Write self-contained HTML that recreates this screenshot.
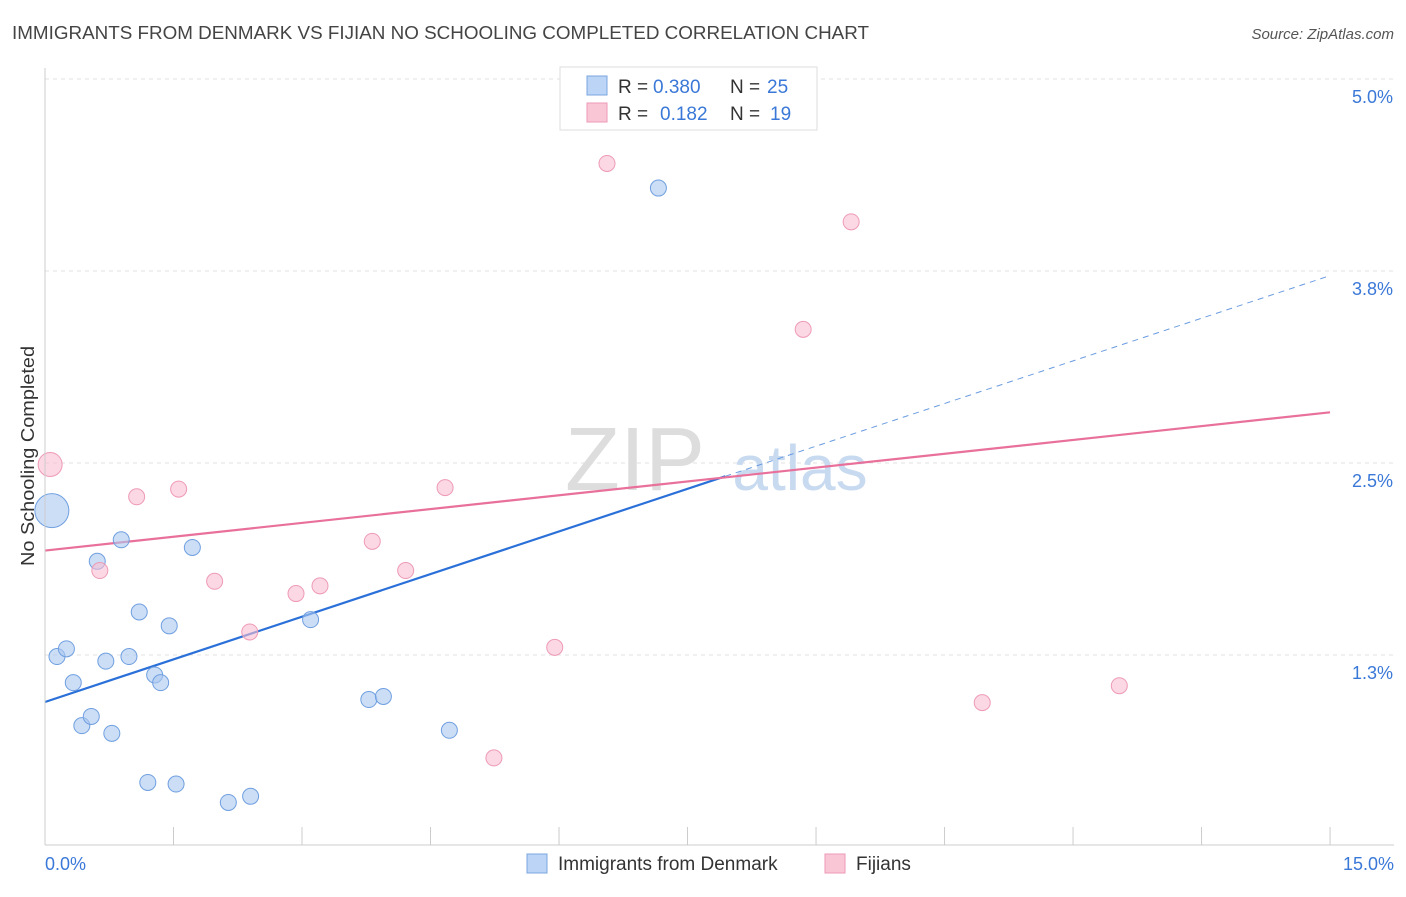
<!DOCTYPE html>
<html><head><meta charset="utf-8"><style>
body{margin:0;background:#fff;font-family:"Liberation Sans",sans-serif;}
svg text{font-family:"Liberation Sans",sans-serif;}
</style></head><body>
<svg id="chart" width="1406" height="892" xmlns="http://www.w3.org/2000/svg">
<text x="12" y="39" font-size="18" fill="#444" textLength="857" lengthAdjust="spacingAndGlyphs">IMMIGRANTS FROM DENMARK VS FIJIAN NO SCHOOLING COMPLETED CORRELATION CHART</text>
<text x="1394" y="39" font-size="15" fill="#555" font-style="italic" text-anchor="end">Source: ZipAtlas.com</text>
<text transform="translate(34,456) rotate(-90)" font-size="18" fill="#333" text-anchor="middle" textLength="220" lengthAdjust="spacingAndGlyphs">No Schooling Completed</text>
<g id="grid"></g>
<g id="watermark">
<text x="635" y="490" font-size="90" fill="#ddd" font-family="Liberation Serif" text-anchor="middle">ZIP</text>
<text x="800" y="490" font-size="64" fill="#c8daf0" text-anchor="middle">atlas</text>
</g>
<g id="lines"></g>
<g id="points"></g>
<g id="axes"></g>
<g>
<rect x="560" y="67" width="257" height="63" fill="#fff" stroke="#ddd"/>
<rect x="587" y="76" width="20" height="19" fill="#bcd4f5" stroke="#7aa6e0"/>
<rect x="587" y="103" width="20" height="19" fill="#f9c6d6" stroke="#ee9ab5"/>
<g font-size="19" fill="#333">
<text x="618" y="93">R =</text><text x="653" y="93" fill="#3a78d8">0.380</text><text x="730" y="93">N =</text><text x="767" y="93" fill="#3a78d8">25</text>
<text x="618" y="120">R =</text><text x="660" y="120" fill="#3a78d8">0.182</text><text x="730" y="120">N =</text><text x="770" y="120" fill="#3a78d8">19</text>
</g>
</g>
<g>
<rect x="527" y="854" width="20" height="19" fill="#bcd4f5" stroke="#7aa6e0"/>
<text x="558" y="870" font-size="19" fill="#333">Immigrants from Denmark</text>
<rect x="825" y="854" width="20" height="19" fill="#f9c6d6" stroke="#ee9ab5"/>
<text x="856" y="870" font-size="19" fill="#333">Fijians</text>
</g>
</svg>
<script>
const yTicks=[5.0,3.75,2.5,1.25];
const yTickLabels=["5.0%","3.8%","2.5%","1.3%"];
const xTickCount=10;
const blueX=[0.08,0.14,0.25,0.33,0.43,0.54,0.61,0.71,0.78,0.89,0.98,1.10,1.20,1.28,1.35,1.45,1.53,1.72,2.14,2.40,3.10,3.78,3.95,4.72,7.16];
const blueY=[2.19,1.24,1.29,1.07,0.79,0.85,1.86,1.21,0.74,2.00,1.24,1.53,0.42,1.12,1.07,1.44,0.41,1.95,0.29,0.33,1.48,0.96,0.98,0.76,4.29];
const pinkX=[0.06,0.64,1.07,1.56,1.98,2.39,2.93,3.21,3.82,4.21,4.67,5.24,5.95,6.56,8.85,9.41,10.94,12.54];
const pinkY=[2.49,1.80,2.28,2.33,1.73,1.40,1.65,1.70,1.99,1.80,2.34,0.58,1.30,4.45,3.37,4.07,0.94,1.05];
const blueLine=[0.944,3.72], blueSolidEnd=7.94;
const pinkLine=[1.93,2.83];
const X=v=>45+v*85.67, Y=v=>847-v*153.6;
const NS="http://www.w3.org/2000/svg";
function mk(t,a,p){const e=document.createElementNS(NS,t);for(const k in a)e.setAttribute(k,a[k]);p.appendChild(e);return e;}
const grid=document.getElementById('grid'),axes=document.getElementById('axes'),lines=document.getElementById('lines'),pts=document.getElementById('points');
yTicks.forEach((v,i)=>{
 const l=mk('line',{x1:45,x2:1394,y1:Y(v),y2:Y(v),stroke:'#e2e2e2','stroke-dasharray':'4,4'},grid);
 
 
 const t=mk('text',{x:1393,y:Y(v)+24,'font-size':18,fill:'#3a78d8','text-anchor':'end'},axes);
 t.textContent=yTickLabels[i];
 
 
});
mk('line',{x1:45,x2:45,y1:68,y2:845,stroke:'#ccc'},axes);
mk('line',{x1:45,x2:1394,y1:845,y2:845,stroke:'#ccc'},axes);
for(let i=0;i<=xTickCount;i++){const x=X(i*1.5);const t=mk('line',{x1:x,x2:x,y1:827,y2:845,stroke:'#ccc'},axes);
 
 }
let t0=mk('text',{x:45,y:870,'font-size':18,fill:'#3a78d8'},axes);t0.textContent='0.0%';


let t1=mk('text',{x:1394,y:870,'font-size':18,fill:'#3a78d8','text-anchor':'end'},axes);t1.textContent='15.0%';


const by=x=>blueLine[0]+(blueLine[1]-blueLine[0])*x/15;
let bl=mk('line',{x1:X(0),y1:Y(by(0)),x2:X(blueSolidEnd),y2:Y(by(blueSolidEnd)),stroke:'#2a70d8','stroke-width':2.2},lines);


let bd=mk('line',{x1:X(blueSolidEnd),y1:Y(by(blueSolidEnd)),x2:X(15),y2:Y(by(15)),stroke:'#6a9ce0','stroke-width':1,'stroke-dasharray':'6,5'},lines);


let pl=mk('line',{x1:X(0),y1:Y(pinkLine[0]),x2:X(15),y2:Y(pinkLine[1]),stroke:'#e8709a','stroke-width':2.2},lines);


blueX.forEach((x,i)=>{const c=mk('circle',{cx:X(x),cy:Y(blueY[i]),r:i==0?17:8,fill:'rgba(170,200,240,0.6)',stroke:'#6f9fe0','stroke-width':1},pts);
 
 });
pinkX.forEach((x,i)=>{const c=mk('circle',{cx:X(x),cy:Y(pinkY[i]),r:i==0?12:8,fill:'rgba(248,190,210,0.6)',stroke:'#ee9ab5','stroke-width':1},pts);
 
 });
</script>
</body></html>
